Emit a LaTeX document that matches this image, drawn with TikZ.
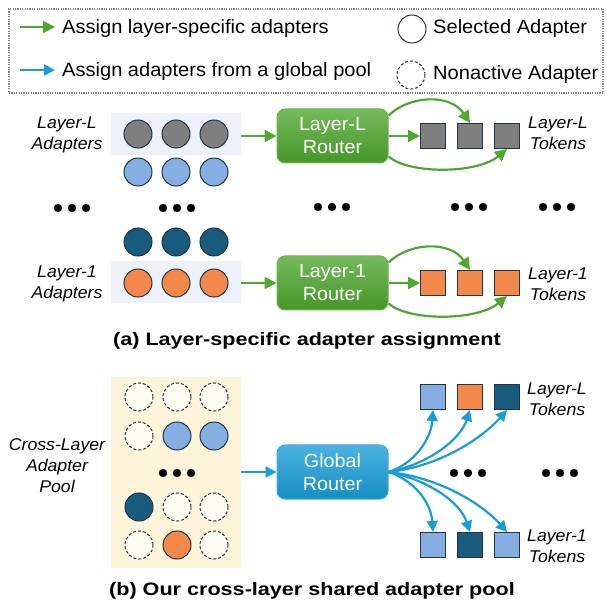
\documentclass[tikz,border=0pt]{standalone}
\usepackage{fontspec}
\setmainfont{Liberation Sans}[FakeStretch=1.04]
\newfontfamily\capfont{Liberation Sans}[FakeStretch=1.2]
\usetikzlibrary{arrows.meta,positioning}
\usepackage{xcolor}

\definecolor{adgray}{HTML}{7F7F7F}
\definecolor{adlight}{HTML}{86AEE3}
\definecolor{addark}{HTML}{185B7C}
\definecolor{adorange}{HTML}{F4884B}
\definecolor{edge}{HTML}{1F3646}
\definecolor{idlefill}{HTML}{FFFCF2}
\definecolor{hlblue}{HTML}{EDF2FA}
\definecolor{poolbg}{HTML}{FDF4DA}
\definecolor{arrgreen}{HTML}{4EA72E}
\definecolor{arrblue}{HTML}{199DD8}

\tikzset{
  adapter/.style={circle, draw=edge, line width=1pt, minimum size=28pt, inner sep=0pt},
  idle/.style={adapter, fill=idlefill, dash pattern=on 3pt off 2pt},
  token/.style={rectangle, draw=edge, line width=1pt, minimum size=25pt, inner sep=0pt},
  hlrow/.style={rectangle, fill=hlblue, minimum width=130pt, minimum height=42pt, inner sep=0pt},
  router/.style={rectangle, rounded corners=8pt, minimum width=111pt, minimum height=54pt,
    align=center, text=white, font=\fontsize{19}{23}\selectfont, line width=1pt},
  grouter/.style={router, draw=arrgreen!85!white, top color=arrgreen!78!white, bottom color=arrgreen!90!black},
  brouter/.style={router, draw=arrblue!85!white, top color=arrblue!78!white, bottom color=arrblue!90!black},
  lab/.style={align=center, font=\fontsize{17}{21}\selectfont\itshape},
  legtxt/.style={anchor=west, inner sep=0pt, font=\fontsize{19.3}{23}\selectfont},
  captxt/.style={font=\capfont\bfseries\fontsize{18}{22}\selectfont},
  garrow/.style={draw=arrgreen, line width=2.2pt, -{Triangle[length=12pt,width=12pt]}},
  barrow/.style={draw=arrblue, line width=2.2pt, -{Triangle[length=11pt,width=11pt]}}
}

\newcommand{\threedots}[2]{\foreach \d in {-14,0,14} \fill ({#1+\d},#2) circle (4.2pt);}

\begin{document}
\begin{tikzpicture}[x=1pt,y=-1pt]
  \useasboundingbox (0,0) rectangle (606,604);

  % legend
  \node[draw=gray, line width=1.2pt, dash pattern=on 1.2pt off 1.2pt,
    minimum width=594pt, minimum height=84pt] (legend) at (306,51) {};
  \coordinate (ga0) at (20,27);
  \coordinate (ga1) at (55,27);
  \coordinate (ba0) at (20,70);
  \coordinate (ba1) at (55,70);
  \draw[garrow] (ga0) -- (ga1);
  \draw[barrow] (ba0) -- (ba1);
  \node[legtxt] (lg1) at (62,29) {Assign layer-specific adapters};
  \node[legtxt] (lg2) at (62,72) {Assign adapters from a global pool};
  \node[adapter, fill=white] (lsel) at (412,29) {};
  \node[idle, fill=white] (lidle) at (411,75) {};
  \node[legtxt] (lg3) at (433,29) {Selected Adapter};
  \node[legtxt] (lg4) at (433,75) {Nonactive Adapter};

  % (a) layer-specific adapters
  \node[hlrow] (hlL) at (176,134) {};
  \node[hlrow] (hl1) at (176,282) {};
  \foreach \x [count=\i] in {138,176,214} {
    \node[adapter, fill=adgray] (gL\i) at (\x,134) {};
    \node[adapter, fill=adlight] (bL\i) at (\x,172) {};
    \node[adapter, fill=addark] (d1\i) at (\x,242) {};
    \node[adapter, fill=adorange] (o1\i) at (\x,283) {};
  }
  \node[lab] (adL) at (67,135) {Layer-L\\Adapters};
  \node[lab] (ad1) at (67,284) {Layer-1\\Adapters};

  \node[grouter] (rL) at (332.5,136) {Layer-L\\Router};
  \node[grouter] (r1) at (332.5,283) {Layer-1\\Router};

  \foreach \x [count=\i] in {433,470,507} {
    \node[token, fill=adgray] (tL\i) at (\x,136) {};
    \node[token, fill=adorange] (t1\i) at (\x,283) {};
  }
  \node[lab] (tkL) at (558,133) {Layer-L\\Tokens};
  \node[lab] (tk1) at (558,284) {Layer-1\\Tokens};

  \draw[garrow] (hlL.east |- rL.west) -- (rL.west);
  \draw[garrow] (hl1.east |- r1.west) -- (r1.west);
  \draw[garrow] (rL.east) -- (tL1.west);
  \draw[garrow] (r1.east) -- (t11.west);
  \draw[garrow] (rL.20) .. controls +(20,-20) and +(-20,-30) .. (tL2.north);
  \draw[garrow] (rL.-20) .. controls +(20,18) and +(-30,25) .. (tL3.south);
  \draw[garrow] (r1.20) .. controls +(20,-20) and +(-20,-30) .. (t12.north);
  \draw[garrow] (r1.-20) .. controls +(20,18) and +(-30,25) .. (t13.south);

  \threedots{72}{208}
  \threedots{177}{208}
  \threedots{332}{207}
  \threedots{469}{207}
  \threedots{557}{207}

  \node[captxt] (capA) at (307,341) {(a) Layer-specific adapter assignment};

  % (b) cross-layer pool
  \node[rectangle, fill=poolbg, minimum width=130pt, minimum height=191pt, inner sep=0pt] (pool) at (176,472.5) {};
  \foreach \x/\y [count=\i] in {139/397,177/397,214/397,139/436,177/507,214/507,139/545,214/545}
    \node[idle] (n\i) at (\x,\y) {};
  \foreach \x/\y/\c [count=\i] in {177/436/adlight,214/436/adlight,139/507/addark,177/545/adorange}
    \node[adapter, fill=\c] (s\i) at (\x,\y) {};
  \threedots{177}{473}
  \node[lab] (pl) at (57,466) {Cross-Layer\\Adapter\\Pool};

  \node[brouter] (gR) at (332.5,472) {Global\\Router};
  \draw[barrow] (pool.east |- gR.west) -- (gR.west);

  \foreach \x/\c [count=\i] in {433/adlight,470/adorange,507/addark}
    \node[token, fill=\c] (uL\i) at (\x,397) {};
  \foreach \x/\c [count=\i] in {433/adlight,470/addark,507/adlight}
    \node[token, fill=\c] (u1\i) at (\x,545) {};
  \node[lab] (ukL) at (557,399) {Layer-L\\Tokens};
  \node[lab] (uk1) at (557,546) {Layer-1\\Tokens};

  \draw[barrow] (gR.east) .. controls +(25,-8) and +(-2,30) .. (uL1.south);
  \draw[barrow] (gR.east) .. controls +(40,-8) and +(-10,30) .. (uL2.south);
  \draw[barrow] (gR.east) .. controls +(55,-6) and +(-22,25) .. (uL3.south);
  \draw[barrow] (gR.east) .. controls +(25,8) and +(-2,-30) .. (u11.north);
  \draw[barrow] (gR.east) .. controls +(40,8) and +(-10,-30) .. (u12.north);
  \draw[barrow] (gR.east) .. controls +(55,6) and +(-22,-25) .. (u13.north);

  \threedots{468}{473}
  \threedots{560}{473}

  \node[captxt] (capB) at (312,591) {(b) Our cross-layer shared adapter pool};
\end{tikzpicture}
\end{document}
